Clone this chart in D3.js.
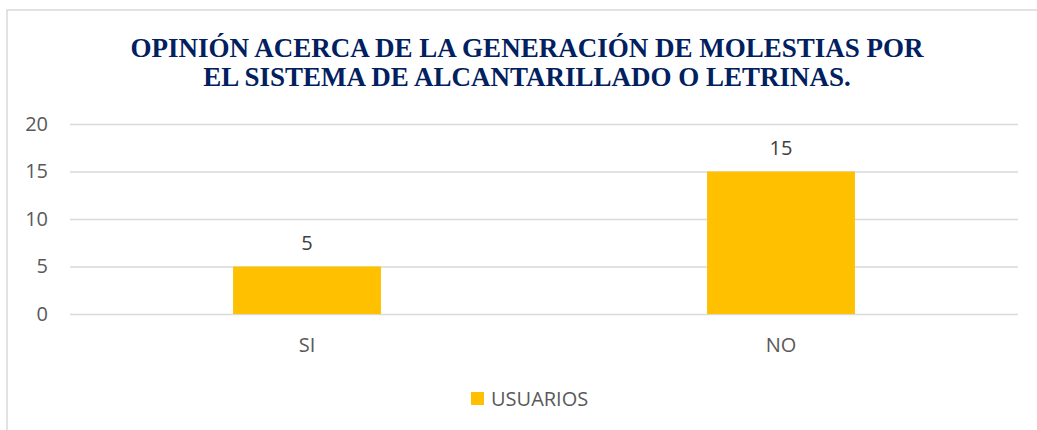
<!DOCTYPE html>
<html>
<head>
<meta charset="utf-8">
<script src="https://cdn.jsdelivr.net/npm/d3@7"></script>
<style>
body { margin: 0; background: #fff; }
svg { display: block; }
</style>
</head>
<body>
<svg id="chart" viewBox="0 0 1037 430" width="1037" height="430"></svg>
<script>
function dibujarGrafico(elementId, datos) {
	var svg = d3.select("#" + elementId);
	var left = 70,
	right = 1018,
	top = 124,
	bottom = 314;

	var fuente = "'Open Sans', 'Noto Sans', sans-serif";

	// marco del gráfico
	svg.append("path")
	.attr("d", "M7,440 L7,10 L1045,10")
	.attr("fill", "none")
	.attr("stroke", "#d9d9d9")
	.attr("stroke-width", 1.5);

	// título
	var titulo = svg.append("text")
		.attr("text-anchor", "middle")
		.attr("font-family", "'Liberation Serif', 'Times New Roman', serif")
		.attr("font-weight", "bold")
		.attr("font-size", 27)
		.attr("fill", "#002060");
	titulo.append("tspan").attr("x", 527).attr("y", 57).text("OPINIÓN ACERCA DE LA GENERACIÓN DE MOLESTIAS POR");
	titulo.append("tspan").attr("x", 527).attr("y", 86).text("EL SISTEMA DE ALCANTARILLADO O LETRINAS.");

	var xScale = d3.scaleBand()
		.domain(datos.map(function (d) { return d.categoria; }))
		.range([left, right])
		.paddingInner(0.688)
		.paddingOuter(0.344);

	var yScale = d3.scaleLinear()
		.domain([0, 20])
		.range([bottom, top]);

	var yAxis = d3.axisLeft()
		.scale(yScale)
		.tickValues([0, 5, 10, 15, 20])
		.tickSize(0)
		.tickPadding(22);

	var ejeY = svg.append("g")
		.attr("class", "y axis")
		.attr("transform", "translate(" + left + ",0)")
		.call(yAxis);
	ejeY.select(".domain").remove();
	ejeY.selectAll("text")
	.attr("fill", "#595959")
	.attr("font-family", fuente)
	.attr("font-size", 20);

	// líneas de cuadrícula
	ejeY.selectAll(".tick")
	.append("line")
	.attr("x1", 0)
	.attr("x2", right - left)
	.attr("stroke", "#d9d9d9")
	.attr("stroke-width", 1.5);

	// barras
	svg.selectAll(".barra")
	.data(datos)
	.enter()
	.append("rect")
	.attr("class", "barra")
	.attr("x", function (d) { return xScale(d.categoria); })
	.attr("y", function (d) { return yScale(d.usuarios); })
	.attr("width", xScale.bandwidth())
	.attr("height", function (d) { return yScale(0) - yScale(d.usuarios); })
	.attr("fill", "#ffc000");

	// etiquetas de datos
	svg.selectAll(".etiqueta")
	.data(datos)
	.enter()
	.append("text")
	.attr("class", "etiqueta")
	.attr("x", function (d) { return xScale(d.categoria) + xScale.bandwidth() / 2; })
	.attr("y", function (d) { return yScale(d.usuarios) - 17; })
	.attr("text-anchor", "middle")
	.attr("fill", "#404040")
	.attr("font-family", fuente)
	.attr("font-size", 20)
	.text(function (d) { return d.usuarios; });

	var xAxis = d3.axisBottom()
		.scale(xScale)
		.tickSize(0)
		.tickPadding(24);

	var ejeX = svg.append("g")
		.attr("class", "x axis")
		.attr("transform", "translate(0," + bottom + ")")
		.call(xAxis);
	ejeX.select(".domain").remove();
	ejeX.selectAll("text")
	.attr("fill", "#595959")
	.attr("font-family", fuente)
	.attr("font-size", 20);

	// leyenda
	var leyenda = svg.append("g").attr("transform", "translate(471,392)");
	leyenda.append("rect")
	.attr("width", 13)
	.attr("height", 13)
	.attr("fill", "#ffc000");
	leyenda.append("text")
	.attr("x", 20)
	.attr("y", 6.5)
	.attr("dy", "0.35em")
	.attr("fill", "#595959")
	.attr("font-family", fuente)
	.attr("font-size", 20)
	.text("USUARIOS");
}

dibujarGrafico("chart", [
	{ categoria: "SI", usuarios: 5 },
	{ categoria: "NO", usuarios: 15 }
]);
</script>
</body>
</html>
